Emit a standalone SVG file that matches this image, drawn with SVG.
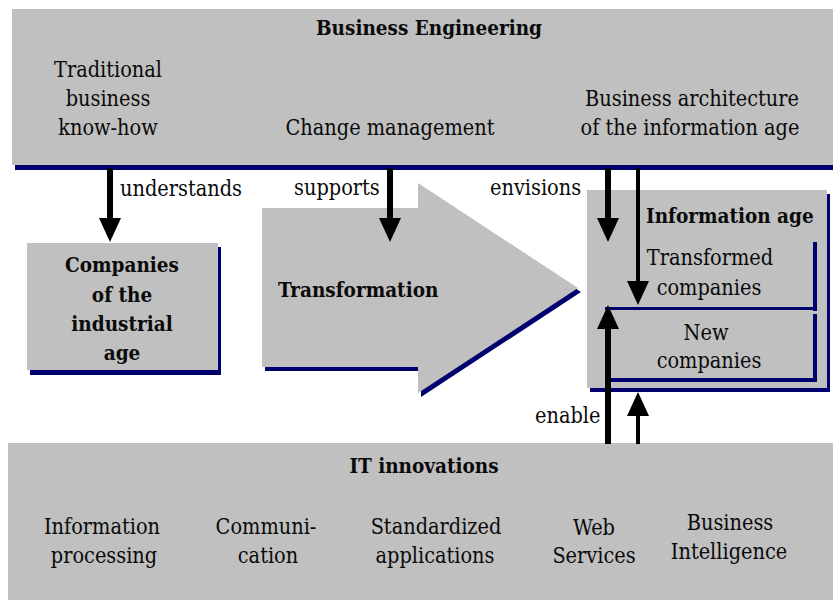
<svg xmlns="http://www.w3.org/2000/svg" width="833" height="605" viewBox="0 0 833 605" font-family="DejaVu Serif Condensed, DejaVu Serif, serif" font-size="21.5" font-stretch="condensed">
<style>
.box{fill:#c0c0c0}
.sh{fill:#00006e}
.b{font-weight:bold;font-size:20.5px}
.c{text-anchor:middle}
.ln{stroke:#000;fill:none}
text{fill:#0a0a0a}
</style>
<defs>
<marker id="ah" markerUnits="userSpaceOnUse" markerWidth="24" markerHeight="22" refX="12" refY="11" orient="auto" viewBox="0 0 24 22">
<path d="M0,0 L24,11 L0,22 z" fill="#000"/>
</marker>
</defs>
<rect width="833" height="605" fill="#fff"/>

<g id="business-engineering">
<rect class="sh" x="15" y="13" width="818" height="157"/>
<rect class="box" x="12" y="9" width="821" height="156"/>
<text class="b c" x="429" y="35">Business Engineering</text>
<text class="c" x="108" y="77">Traditional</text>
<text class="c" x="108" y="106">business</text>
<text class="c" x="108" y="135">know-how</text>
<text class="c" x="390" y="135">Change management</text>
<text class="c" x="692" y="106">Business architecture</text>
<text class="c" x="690" y="135">of the information age</text>
</g>

<g id="companies-industrial">
<rect class="sh" x="30" y="247" width="191" height="128"/>
<rect class="box" x="27" y="243" width="191" height="127"/>
<text class="b c" x="122" y="272">Companies</text>
<text class="b c" x="122" y="302">of the</text>
<text class="b c" x="122" y="331">industrial</text>
<text class="b c" x="122" y="360">age</text>
</g>

<g id="transformation">
<polygon class="sh" points="265,212 421,212 421,187 581,292 421,397 421,371 265,371"/>
<polygon class="box" points="262,208 418,208 418,183 578,288 418,393 418,367 262,367"/>
<text class="b" x="278" y="297">Transformation</text>
</g>

<g id="information-age">
<rect class="sh" x="590" y="194" width="240" height="198"/>
<rect class="box" x="587" y="190" width="240" height="198"/>
<text class="b" x="646" y="223">Information age</text>
<g id="transformed-companies">
<rect class="sh" x="605" y="242" width="212" height="69"/>
<rect class="box" x="602" y="238" width="211" height="69"/>
<text class="c" x="710" y="265">Transformed</text>
<text class="c" x="709" y="295">companies</text>
</g>
<g id="new-companies">
<rect class="sh" x="605" y="314" width="212" height="68"/>
<rect class="box" x="602" y="310" width="211" height="68"/>
<text class="c" x="706" y="340">New</text>
<text class="c" x="709" y="368">companies</text>
</g>
</g>

<g id="it-innovations">
<rect class="box" x="8" y="443" width="825" height="157"/>
<text class="b c" x="424" y="473">IT innovations</text>
<text class="c" x="102" y="534">Information</text>
<text class="c" x="104" y="563">processing</text>
<text class="c" x="266" y="534">Communi-</text>
<text class="c" x="268" y="563">cation</text>
<text class="c" x="436" y="534">Standardized</text>
<text class="c" x="435" y="563">applications</text>
<text class="c" x="594" y="535">Web</text>
<text class="c" x="594" y="563">Services</text>
<text class="c" x="730" y="530">Business</text>
<text class="c" x="729" y="559">Intelligence</text>
</g>

<g id="connectors">
<line id="c-understands" class="ln" x1="110" y1="168" x2="110" y2="230" stroke-width="6" marker-end="url(#ah)"/>
<text x="120" y="196">understands</text>
<line id="c-supports" class="ln" x1="390" y1="168" x2="390" y2="230" stroke-width="6" marker-end="url(#ah)"/>
<text x="294" y="195">supports</text>
<line id="c-envisions" class="ln" x1="608" y1="168" x2="608" y2="230" stroke-width="6" marker-end="url(#ah)"/>
<text x="490" y="195">envisions</text>
<line id="c-envisions2" class="ln" x1="638" y1="168" x2="638" y2="293" stroke-width="4" marker-end="url(#ah)"/>
<line id="c-enable" class="ln" x1="608" y1="444" x2="608" y2="317" stroke-width="6" marker-end="url(#ah)"/>
<line id="c-enable2" class="ln" x1="638" y1="444" x2="638" y2="404" stroke-width="4" marker-end="url(#ah)"/>
<text x="535" y="423">enable</text>
</g>
</svg>
